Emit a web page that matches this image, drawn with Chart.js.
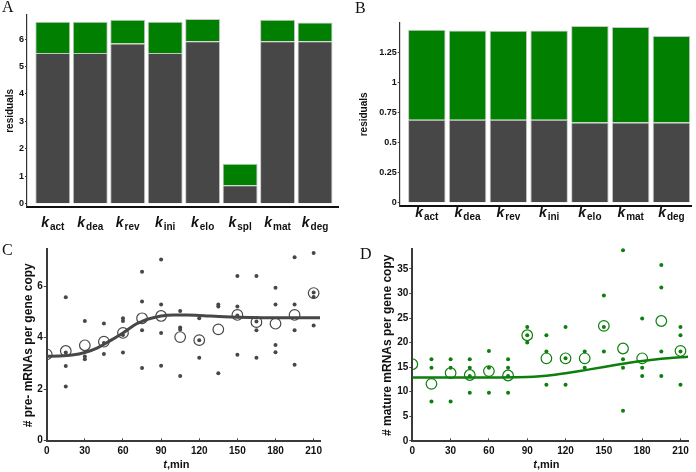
<!DOCTYPE html>
<html><head><meta charset="utf-8">
<script src="https://cdn.jsdelivr.net/npm/chart.js@4/dist/chart.umd.min.js"></script>
<style>
html,body{margin:0;padding:0;background:#fff;}
#wrap{position:relative;width:696px;height:472px;overflow:hidden;background:#fff;}
canvas{position:absolute;}
.lbl{position:absolute;font-family:"Liberation Serif","DejaVu Serif",serif;font-size:16px;line-height:16px;color:#111;}
</style></head><body>
<div id="wrap">
<canvas id="cA" width="348" height="236" style="left:0px;top:0px"></canvas>
<canvas id="cB" width="348" height="236" style="left:348px;top:0px"></canvas>
<canvas id="cC" width="348" height="236" style="left:0px;top:236px"></canvas>
<canvas id="cD" width="348" height="236" style="left:348px;top:236px"></canvas>
<div class="lbl" style="left:2px;top:-1px">A</div>
<div class="lbl" style="left:355px;top:0px">B</div>
<div class="lbl" style="left:2px;top:242px">C</div>
<div class="lbl" style="left:360px;top:246px">D</div>
</div>
<script>
// ---------- data ----------
const paramsA = ['act','dea','rev','ini','elo','spl','mat','deg'];
const grayA   = [5.49, 5.49, 5.84, 5.49, 5.92, 0.67, 5.92, 5.92];
const totalA  = [6.63, 6.63, 6.71, 6.63, 6.73, 1.46, 6.71, 6.61];
const ticksA  = [0, 1, 2, 3, 4, 5, 6];

const paramsB = ['act','dea','rev','ini','elo','mat','deg'];
const grayB   = [0.69, 0.69, 0.69, 0.69, 0.668, 0.668, 0.668];
const totalB  = [1.438, 1.433, 1.430, 1.433, 1.469, 1.461, 1.386];
const ticksB  = [0, 0.25, 0.5, 0.75, 1, 1.25];

const timesMin = [0, 15, 30, 45, 60, 75, 90, 105, 120, 135, 150, 165, 180, 195, 210];
const tickT    = [0, 30, 60, 90, 120, 150, 180, 210];

const preDots = [
  [],
  [5.57, 3.42, 2.90, 2.10],
  [4.64, 3.26, 3.16],
  [4.55, 3.79, 3.36],
  [4.75, 4.64, 4.10, 3.42],
  [6.56, 5.40, 4.28, 2.82],
  [7.03, 5.29, 4.18, 2.91],
  [5.03, 4.39, 4.31, 2.51],
  [4.75, 3.90, 3.22],
  [5.29, 5.21, 2.61],
  [6.39, 5.21, 4.86, 3.33],
  [6.39, 4.62, 4.28, 3.22],
  [5.94, 5.29, 3.71, 3.43],
  [7.12, 5.29, 4.28, 2.94],
  [7.29, 5.75, 5.58, 4.47]
];
const preMeans = [3.35, 3.48, 3.70, 3.84, 4.18, 4.75, 4.84, 4.02, 3.90, 4.32, 4.88, 4.60, 4.54, 4.88, 5.73];
const preFitT  = [0, 10, 20, 30, 40, 50, 60, 70, 75, 80, 90, 100, 110, 120, 140, 160, 180, 200, 215];
const preFitV  = [3.27, 3.28, 3.32, 3.42, 3.60, 3.88, 4.18, 4.52, 4.63, 4.72, 4.84, 4.88, 4.88, 4.86, 4.81, 4.78, 4.77, 4.77, 4.77];
const ticksC   = [0, 2, 4, 6];

const matDots = [
  [],
  [16.6, 14.9, 8.0],
  [16.6, 14.9, 8.0],
  [16.6, 14.9, 13.2, 9.8],
  [18.3, 14.9, 9.8],
  [16.6, 14.9, 13.2, 9.8],
  [23.2, 21.5, 20.0],
  [21.5, 18.2, 11.4],
  [23.2, 16.8, 11.4],
  [18.2, 14.9],
  [29.6, 23.2, 18.2],
  [38.8, 16.6, 14.9, 6.1],
  [24.9, 14.9, 13.2],
  [35.8, 31.2, 18.2, 13.2],
  [23.2, 21.5, 18.2, 11.4]
];
const matMeans = [15.6, 11.6, 13.8, 13.4, 14.2, 13.3, 21.5, 16.8, 16.8, 16.8, 23.4, 18.8, 16.8, 24.4, 18.3];
const matFitT  = [0, 20, 40, 60, 80, 90, 100, 110, 120, 130, 140, 150, 160, 170, 180, 190, 200, 210, 216];
const matFitV  = [12.9, 12.9, 12.9, 12.9, 12.95, 13.0, 13.15, 13.4, 13.75, 14.15, 14.6, 15.05, 15.5, 15.9, 16.25, 16.55, 16.8, 17.0, 17.1];
const ticksD   = [0, 5, 10, 15, 20, 25, 30, 35];

// ---------- styling ----------
const FONT = '"Liberation Sans", Arial, sans-serif';
const GRAY = '#474747';
const GREEN = '#007f00';
const DGREEN = '#0d7f0d';
Chart.defaults.font.family = FONT;
Chart.defaults.animation = false;

const kLabelPlugin = {
  id: 'kLabels',
  afterDraw(chart) {
    const o = chart.options.plugins.kLabels;
    if (!o) return;
    const ctx = chart.ctx, xs = chart.scales.x;
    o.subs.forEach((s, i) => {
      const x = xs.getPixelForValue(i + 1);
      ctx.save();
      ctx.fillStyle = '#111';
      ctx.textAlign = 'left';
      ctx.textBaseline = 'alphabetic';
      ctx.font = 'italic bold 14px ' + FONT;
      const kw = ctx.measureText('k').width;
      ctx.font = 'bold 10px ' + FONT;
      const sw = ctx.measureText(s).width;
      const x0 = x - (kw + 1 + sw) / 2;
      ctx.font = 'italic bold 14px ' + FONT;
      ctx.fillText('k', x0, o.y);
      ctx.font = 'bold 10px ' + FONT;
      ctx.fillText(s, x0 + kw + 1, o.y + 3);
      ctx.restore();
    });
  }
};

const tTitlePlugin = {
  id: 'tTitle',
  afterDraw(chart) {
    const o = chart.options.plugins.tTitle;
    if (!o) return;
    const ctx = chart.ctx;
    const cx = chart.scales.x.getPixelForValue(o.center);
    ctx.save();
    ctx.fillStyle = '#111';
    ctx.textAlign = 'left';
    ctx.textBaseline = 'alphabetic';
    ctx.font = 'italic bold 11px ' + FONT;
    const tw = ctx.measureText('t').width;
    ctx.font = 'bold 11px ' + FONT;
    const rw = ctx.measureText(',min').width;
    const x0 = cx - (tw + rw) / 2;
    ctx.font = 'italic bold 11px ' + FONT;
    ctx.fillText('t', x0, o.y);
    ctx.font = 'bold 11px ' + FONT;
    ctx.fillText(',min', x0 + tw, o.y);
    ctx.restore();
  }
};

function barChart(id, subs, gray, total, yTicks, cfg) {
  const green = total.map((t, i) => +(t - gray[i]).toFixed(3));
  return new Chart(document.getElementById(id), {
    type: 'bar',
    data: { datasets: [
      { data: gray.map((v, i) => ({ x: i + 1, y: v })), backgroundColor: GRAY, borderColor: '#c6c6c6', borderWidth: 1,
        barPercentage: cfg.bp, categoryPercentage: 1 },
      { data: green.map((v, i) => ({ x: i + 1, y: v })), backgroundColor: GREEN, borderColor: '#c6c6c6', borderWidth: 1,
        barPercentage: cfg.bp, categoryPercentage: 1 }
    ]},
    options: {
      responsive: false, animation: false,
      layout: { padding: { left: cfg.pl, top: cfg.pt, right: cfg.pr, bottom: 0 } },
      plugins: { legend: { display: false }, tooltip: { enabled: false }, kLabels: { subs: subs, y: cfg.labelY } },
      scales: {
        x: { type: 'linear', stacked: true, offset: false, min: cfg.xMin, max: cfg.xMax,
             grid: { display: false, offset: false }, border: { display: true, color: '#111', width: 2 },
             ticks: { display: false }, afterFit(s) { s.height = cfg.xh; } },
        y: { stacked: true, min: cfg.yMin, max: cfg.yMax,
             afterBuildTicks(s) { s.ticks = yTicks.map(v => ({ value: v })); },
             ticks: { font: { size: 9, weight: 'bold' }, color: '#111', padding: 1, callback: v => String(v) },
             grid: { display: true, drawOnChartArea: false, tickLength: 2, color: '#444' },
             border: { display: true, color: '#333', width: 1.2 },
             title: { display: true, text: 'residuals', font: { size: 10, weight: 'bold' }, color: '#111', padding: 0 },
             afterFit(s) { s.width = cfg.yw; } }
      }
    },
    plugins: [kLabelPlugin]
  });
}

function scatterChart(id, dots, means, fitT, fitV, color, yTicks, title, cfg) {
  const dotPts = [];
  dots.forEach((arr, i) => arr.forEach(v => dotPts.push({ x: timesMin[i], y: v })));
  return new Chart(document.getElementById(id), {
    type: 'scatter',
    data: { datasets: [
      { data: fitT.map((t, i) => ({ x: t, y: fitV[i] })), showLine: true, pointRadius: 0, borderColor: color,
        borderWidth: cfg.lw, cubicInterpolationMode: 'monotone', fill: false },
      { data: dotPts, pointRadius: 2, pointBackgroundColor: color, pointBorderWidth: 0, clip: false },
      { data: means.map((v, i) => ({ x: timesMin[i], y: v })), pointRadius: 5.3, pointBackgroundColor: 'rgba(0,0,0,0)',
        pointBorderColor: color, pointBorderWidth: 1.2, clip: { left: 0, top: false, right: false, bottom: false } }
    ]},
    options: {
      responsive: false, animation: false,
      layout: { padding: { left: cfg.pl, top: cfg.pt, right: cfg.pr, bottom: 0 } },
      plugins: { legend: { display: false }, tooltip: { enabled: false }, tTitle: { center: cfg.tc, y: 232 } },
      scales: {
        x: { type: 'linear', min: 0, max: cfg.xMax,
             afterBuildTicks(s) { s.ticks = tickT.map(v => ({ value: v })); },
             ticks: { font: { size: 10, weight: 'bold' }, color: '#111', padding: 7, maxRotation: 0 },
             grid: { display: true, drawOnChartArea: false, tickLength: -3, color: '#444' },
             border: { display: true, color: '#3a3a3a', width: 2 },
             afterFit(s) { s.height = 30.7; } },
        y: { min: cfg.yMin, max: cfg.yMax,
             afterBuildTicks(s) { s.ticks = yTicks.map(v => ({ value: v })); },
             ticks: { font: { size: 10, weight: 'bold' }, color: '#111', padding: 1 },
             grid: { display: true, drawOnChartArea: false, tickLength: 3, color: '#444' },
             border: { display: true, color: '#3a3a3a', width: 2 },
             title: { display: true, text: title, font: { size: 12, weight: 'bold' }, color: '#111', padding: 0 },
             afterFit(s) { s.width = cfg.yw; } }
      }
    },
    plugins: [tTitlePlugin]
  });
}

barChart('cA', paramsA, grayA, totalA, ticksA,
  { pl: 4, pt: 15, pr: 10, yw: 23, xh: 29.3, bp: 0.933, xMin: 0.312, xMax: 8.613, yMin: -0.11, yMax: 6.88, labelY: 226.7 });
barChart('cB', paramsB, grayB, totalB, ticksB,
  { pl: 10.7, pt: 22.7, pr: 5, yw: 41, xh: 30, bp: 0.92, xMin: 0.335, xMax: 7.48, yMin: -0.027, yMax: 1.497, labelY: 216.7 });
scatterChart('cC', preDots, preMeans, preFitT, preFitV, GRAY, ticksC, '# pre- mRNAs per gene copy',
  { pl: 21.1, pt: 13.3, pr: 28, yw: 25.6, xMax: 215, yMin: -0.03, yMax: 7.43, lw: 3, tc: 102 });
scatterChart('cD', matDots, matMeans, matFitT, matFitV, DGREEN, ticksD, '# mature mRNAs per gene copy',
  { pl: 32.8, pt: 13.3, pr: 5.7, yw: 31.5, xMax: 216, yMin: -0.1, yMax: 39, lw: 2.5, tc: 105 });
</script>
</body></html>
